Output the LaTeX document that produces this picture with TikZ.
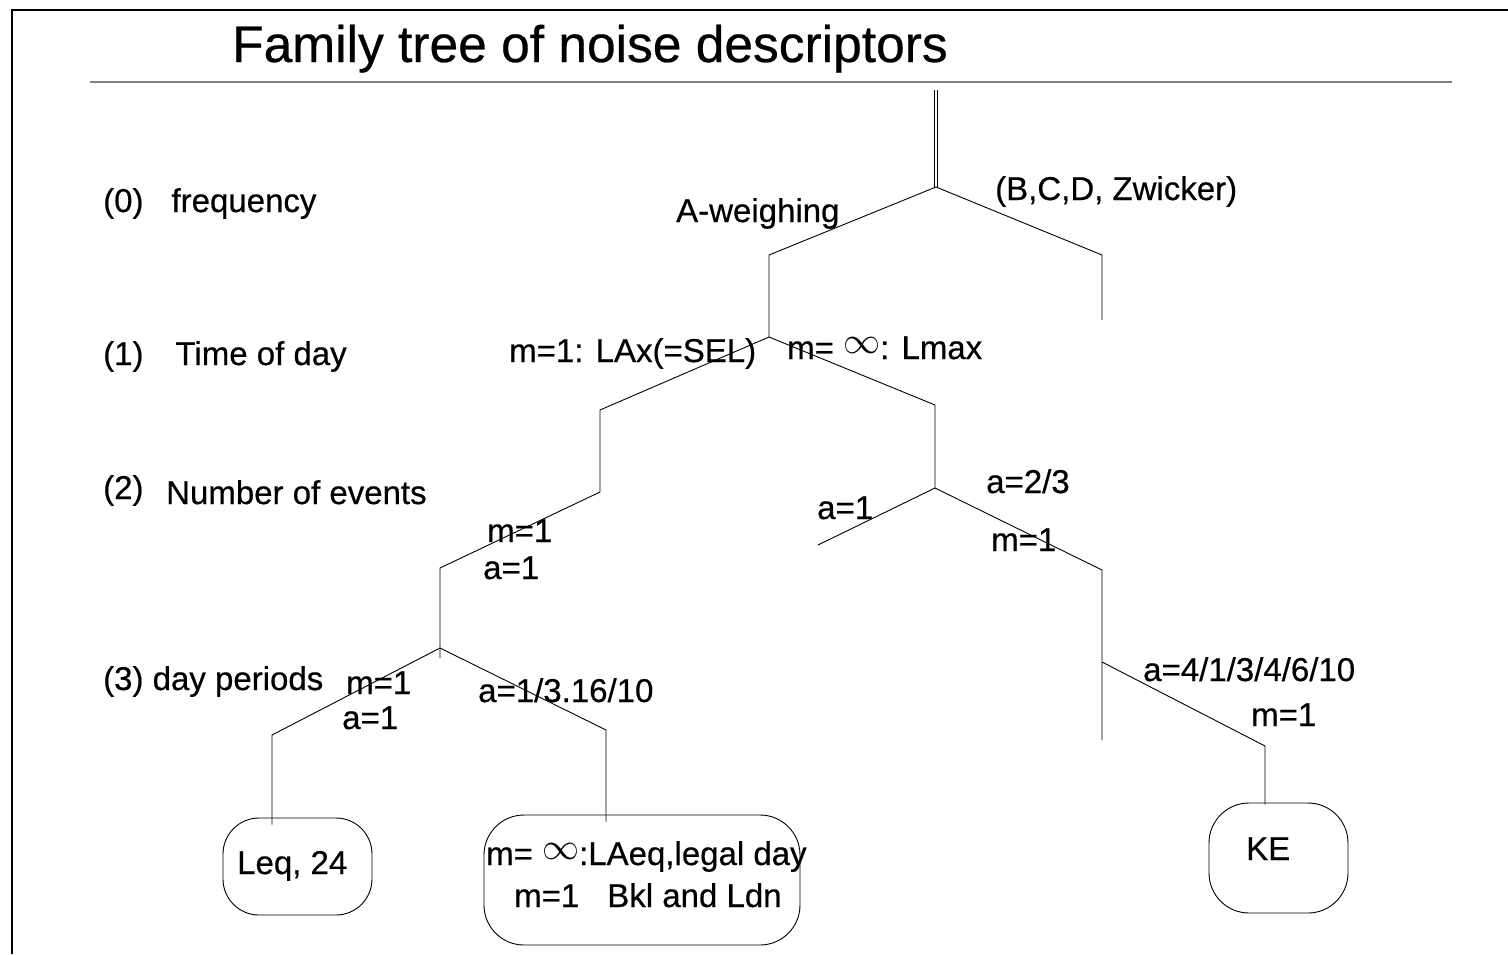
\documentclass[tikz,border=0pt]{standalone}
\usepackage{fontspec}
\setmainfont[FakeBold=0.5]{Liberation Sans}
\newcommand{\infsym}{\raisebox{6pt}{\resizebox{37pt}{16pt}{$\infty$}}}
\begin{document}
\begin{tikzpicture}[x=1pt,y=-1pt,
  lbl/.style={font=\fontsize{33}{38}\selectfont, inner sep=0pt, anchor=base west},
  titlestyle/.style={font=\fontsize{51.5}{60}\selectfont, inner sep=0pt, anchor=base west},
  branch/.style={line width=0.9pt, black},
  leaf/.style={draw, rounded corners=36pt, line width=0.9pt, inner sep=0pt}]
\useasboundingbox (0,0) rectangle (1508,954);
% frame and rule
\draw[line width=2.6pt] (12,954) -- (12,10) -- (1508,10);
\draw[gray, line width=2pt] (90,82) -- (1452,82);
\node[titlestyle] (title) at (232,62) {Family tree of noise descriptors};

% tree junctions
\coordinate (top) at (936,90);
\coordinate (r0) at (936,187);
\coordinate (aL) at (769,255);
\coordinate (r1) at (769,337);
\coordinate (bR) at (1102,255);
\coordinate (bRe) at (1102,320);
\coordinate (c1L) at (600,410);
\coordinate (c1Lb) at (600,492);
\coordinate (c1R) at (935,405);
\coordinate (r2R) at (935,488);
\coordinate (d2L) at (440,568);
\coordinate (r3) at (440,648);
\coordinate (r3s) at (440,658);
\coordinate (e3L) at (272,735);
\coordinate (e3R) at (606,730);
\coordinate (f2L) at (818,545);
\coordinate (f2R) at (1102,570);
\coordinate (f2Re) at (1102,740);
\coordinate (g3) at (1102,662);
\coordinate (g3R) at (1265,746);

% leaves
\node[leaf, minimum width=149pt, minimum height=97pt] (leq) at (297.5,866.5) {};
\node[leaf, minimum width=316pt, minimum height=130pt, rounded corners=40pt] (lday) at (642,880) {};
\node[leaf, minimum width=139pt, minimum height=110pt, rounded corners=40pt] (ke) at (1278.5,858) {};

% double stem
\draw[branch, line width=0.8pt] ([xshift=-1.2pt]top) -- ([xshift=-1.2pt]r0);
\draw[branch, line width=0.8pt] ([xshift=1.2pt]top) -- ([xshift=1.2pt]r0);
% branches
\draw[branch] (r1) -- (aL) -- (r0) -- (bR) -- (bRe);
\draw[branch] (c1Lb) -- (c1L) -- (r1) -- (c1R) -- (r2R);
\draw[branch] (c1Lb) -- (d2L) -- (r3s);
\draw[branch] ([yshift=-7pt]e3L |- leq.north) -- (e3L) -- (r3) -- (e3R) -- ([yshift=-7pt]e3R |- lday.north);
\draw[branch] (f2L) -- (r2R) -- (f2R) -- (f2Re);
\draw[branch] (g3) -- (g3R) -- ([yshift=-2pt]g3R |- ke.north);

% level labels
\node[lbl] (l0) at (103,212) {(0)\hspace{28pt}frequency};
\node[lbl] (l1) at (103,365) {(1)\hspace{32pt}Time of day};
\node[lbl] (l2a) at (103,499) {(2)};
\node[lbl] (l2b) at (166,504) {Number of events};
\node[lbl] (l3) at (103,690) {(3) day periods};

% branch labels
\node[lbl] (aw) at (676,222) {A-weighing};
\node[lbl] (bcd) at (995,200) {(B,C,D, Zwicker)};
\node[lbl] (sel) at (509,362) {m=1: LAx(=SEL)};
\node[lbl] (lmax) at (787,359) {m= \infsym: Lmax};
\node[lbl] (m1a) at (487,542) {m=1};
\node[lbl] (a1a) at (483,579) {a=1};
\node[lbl] (a1b) at (817,519) {a=1};
\node[lbl] (a23) at (986,493) {a=2/3};
\node[lbl] (m1b) at (991,551) {m=1};
\node[lbl] (m1c) at (346,694) {m=1};
\node[lbl] (a1c) at (342,729) {a=1};
\node[lbl] (a316) at (478,702) {a=1/3.16/10};
\node[lbl] (a410) at (1143,681) {a=4/1/3/4/6/10};
\node[lbl] (m1d) at (1251,726) {m=1};

% leaf texts
\node[lbl] (leqt) at (237,874) {Leq, 24};
\node[lbl] (ldayt1) at (486,865) {m= \infsym:LAeq,legal day};
\node[lbl] (ldayt2) at (514,907) {m=1\hspace{28pt}Bkl and Ldn};
\node[lbl] (ket) at (1246,860) {KE};
\end{tikzpicture}
\end{document}
